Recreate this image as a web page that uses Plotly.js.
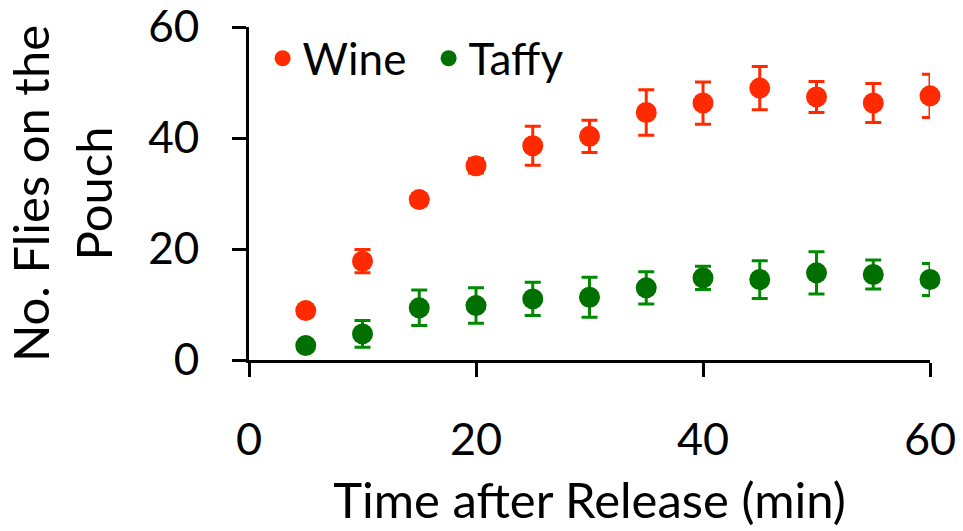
<!DOCTYPE html>
<html>
<head>
<meta charset="utf-8">
<script src="https://cdn.plot.ly/plotly-3.0.1.min.js"></script>
<style>html,body{margin:0;padding:0;background:#fff;}#chart{width:963px;height:531px;}</style>
</head>
<body>
<div id="chart"></div>
<script>
const timeMin = [5, 10, 15, 20, 25, 30, 35, 40, 45, 50, 55, 60];
const wineMean = [8.9, 17.8, 28.9, 35.0, 38.6, 40.3, 44.6, 46.3, 49.0, 47.4, 46.3, 47.6];
const wineErr  = [1.0, 2.1, 1.0, 1.3, 3.5, 2.9, 4.1, 3.8, 3.9, 2.8, 3.5, 3.9];
const taffyMean = [2.6, 4.7, 9.4, 9.8, 11.0, 11.3, 13.0, 14.8, 14.5, 15.7, 15.4, 14.5];
const taffyErr  = [0.8, 2.4, 3.2, 3.2, 3.0, 3.6, 2.9, 2.1, 3.4, 3.8, 2.6, 2.9];
const xTicks = [0, 20, 40, 60];
const yTicks = [0, 20, 40, 60];

const FONT = 'Lato, "Open Sans", sans-serif';
const red = '#ff2a00';
const green = '#007000';
const greenBar = '#008a00';

const traces = [
  {
    name: 'Wine', x: timeMin, y: wineMean, type: 'scatter', mode: 'markers', cliponaxis: false,
    marker: {color: red, size: 21},
    error_y: {type: 'data', array: wineErr, visible: true, color: red, thickness: 3, width: 8}
  },
  {
    name: 'Taffy', x: timeMin, y: taffyMean, type: 'scatter', mode: 'markers', cliponaxis: false,
    marker: {color: green, size: 21},
    error_y: {type: 'data', array: taffyErr, visible: true, color: greenBar, thickness: 3, width: 8}
  }
];

const layout = {
  width: 963, height: 531,
  margin: {l: 249, r: 33, t: 27, b: 171},
  paper_bgcolor: '#fff', plot_bgcolor: '#fff',
  font: {family: FONT, size: 44, color: '#000'},
  showlegend: true,
  legend: {
    orientation: 'h', x: 0.02, y: 0.905, xanchor: 'left', yanchor: 'middle',
    font: {family: FONT, size: 44, color: '#000'},
    bgcolor: 'rgba(0,0,0,0)', itemsizing: 'trace', tracegroupgap: 0, itemwidth: 30,
    entrywidth: 121, entrywidthmode: 'pixels'
  },
  xaxis: {
    range: [0, 60], tickvals: xTicks, ticktext: xTicks.map(String),
    showgrid: false, zeroline: false, showline: true, linecolor: '#000', linewidth: 3,
    ticks: 'outside', ticklen: 14, tickwidth: 3, tickcolor: '#000',
    ticklabelstandoff: 24, ticklabeloverflow: 'allow',
    tickfont: {family: FONT, size: 45, color: '#000'},
    title: {text: 'Time after Release (min)', font: {family: FONT, size: 49, color: '#000'}, standoff: 20},
    automargin: false, fixedrange: true
  },
  yaxis: {
    range: [0, 60], tickvals: yTicks, ticktext: yTicks.map(String),
    showgrid: false, zeroline: false, showline: true, linecolor: '#000', linewidth: 3,
    ticks: 'outside', ticklen: 14, tickwidth: 3, tickcolor: '#000',
    ticklabelstandoff: 24, ticklabeloverflow: 'allow',
    tickfont: {family: FONT, size: 44, color: '#000'},
    title: {text: 'No. Flies on the<br>Pouch', font: {family: FONT, size: 49, color: '#000'}, standoff: 20},
    automargin: false, fixedrange: true
  }
};

Plotly.newPlot('chart', traces, layout, {staticPlot: true, displayModeBar: false});
</script>
</body>
</html>
